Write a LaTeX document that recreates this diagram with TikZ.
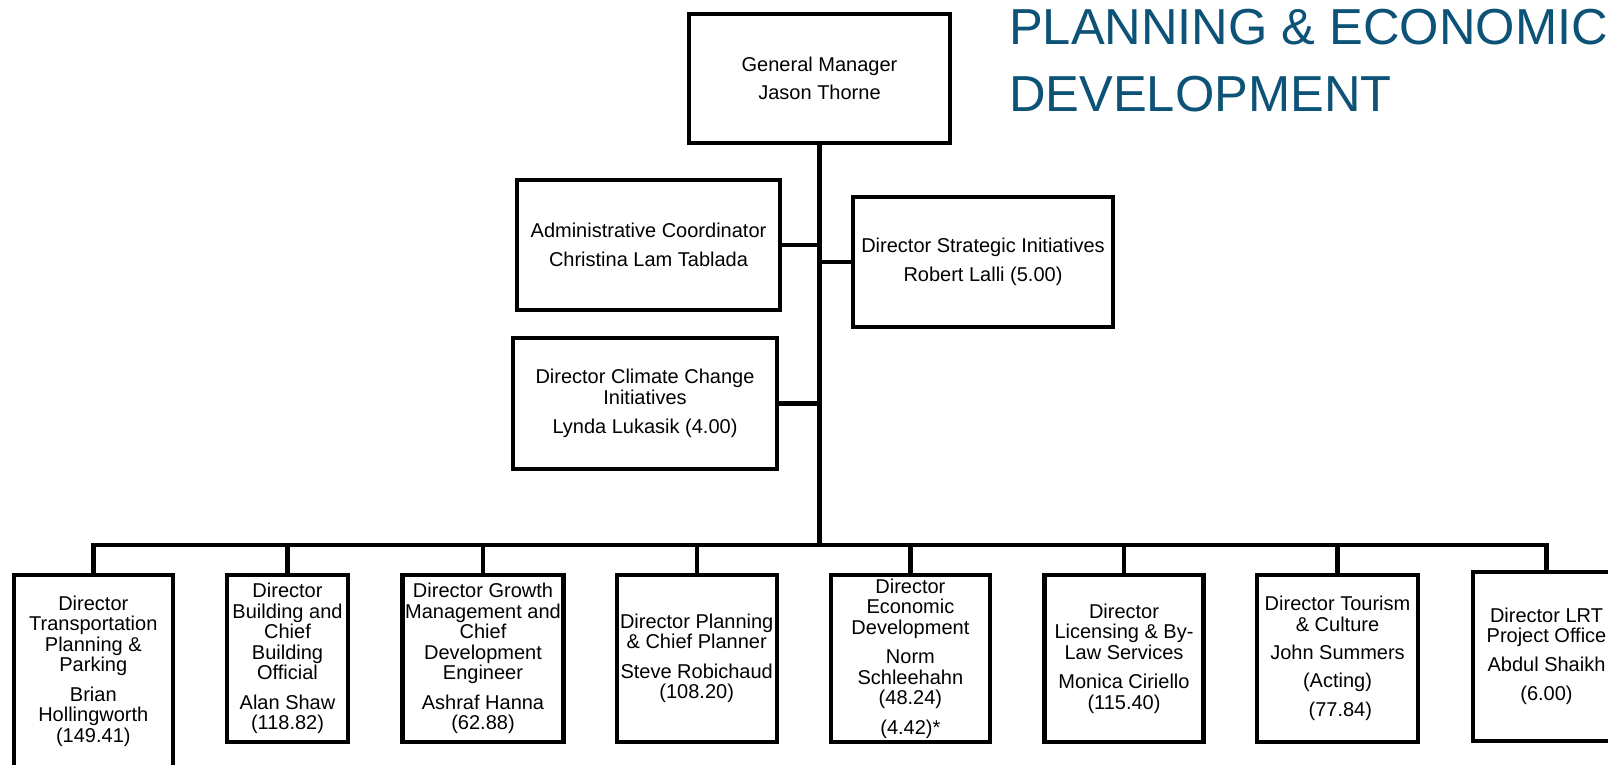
\documentclass[tikz,border=0pt]{standalone}
\usepackage{fontspec}
\setmainfont{Liberation Sans}
\usetikzlibrary{calc,positioning}
\definecolor{titleblue}{HTML}{0D5277}

\begin{document}
\begin{tikzpicture}[x=1pt,y=-1pt,
		box/.style={draw,line width=4.3pt,align=center,inner xsep=-8pt,inner ysep=0pt,minimum width=#1,
			execute at begin node={\rule{0pt}{18.5pt}}},
		box/.default=159pt,
		link/.style={line width=4.4pt},
		heading/.style={anchor=base west,inner sep=0pt,text=titleblue,font=\fontsize{50.6}{60}\selectfont},
		font=\fontsize{20}{20.5}\selectfont]
				\clip (0,0) rectangle (1608,765);
				\fill[white] (0,0) rectangle (1608,765);
				
				\node[heading] (ttl1) at (1009,45) {PLANNING \& ECONOMIC};
				\node[heading] (ttl2) at (1009,111.7) {DEVELOPMENT};
				
				\node[box=261pt,minimum height=129pt] (gm) at (819.5,78.5) {General Manager\\[8pt]Jason Thorne};
				\node[box=263pt,minimum height=130pt] (adm) at (648.5,245) {Administrative Coordinator\\[8pt]Christina Lam Tablada};
				\node[box=260pt,minimum height=130.5pt] (dsi) at (983,262) {Director Strategic Initiatives\\[8pt]Robert Lalli (5.00)};
				\node[box=264pt,minimum height=131pt] (dcc) at (645,403.5) {Director Climate Change\\Initiatives\\[9pt]Lynda Lukasik (4.00)};
				
				\node[box=159pt,minimum height=192pt] (tpp) at (93.3,671) {Director\\Transportation\\Planning \&\\Parking\\[9pt]Brian\\Hollingworth\\(149.41)};
				\node[box=121pt,minimum height=167pt] (bld) at (287.5,658.5) {Director\\Building and\\Chief\\Building\\Official\\[9pt]Alan Shaw\\(118.82)};
				\node[box=161pt,minimum height=167pt] (gme) at (483,658.5) {Director Growth\\Management and\\Chief\\Development\\Engineer\\[9pt]Ashraf Hanna\\(62.88)};
				\node[box=160pt,minimum height=167pt] (pcp) at (696.7,658.5) {Director Planning\\\& Chief Planner\\[9pt]Steve Robichaud\\(108.20)};
				\node[box=159pt,minimum height=167pt] (ecd) at (910.4,658.5) {Director\\Economic\\Development\\[9pt]Norm\\Schleehahn\\(48.24)\\[9pt](4.42)*};
				\node[box=159pt,minimum height=167pt] (lbs) at (1124,658.5) {Director\\Licensing \& By-\\Law Services\\[9pt]Monica Ciriello\\(115.40)};
				\node[box=161pt,minimum height=167pt] (tou) at (1337.5,658.5) {Director Tourism\\\& Culture\\[8pt]John Summers\\[7pt](Acting)\\[9pt]\ (77.84)};
				\node[box=147pt,minimum height=168.7pt] (lrt) at (1546.5,656.4) {Director LRT\\Project Office\\[8pt]Abdul Shaikh\\[9pt](6.00)};
				
				\coordinate (bus) at (819.5,545);
				
				\draw[link] (gm.south) -- (bus);
				\draw[link] (tpp.north) |- (bus) -| (lrt.north);
				
				\foreach \x in {bld,gme,pcp,ecd,lbs,tou}{
					\draw[link] (\x.north) -- (\x.north |- bus);}
				
				\draw[link] (adm.east) -- (adm.east -| bus);
				\draw[link] (dcc.east) -- (dcc.east -| bus);
				\draw[link] (dsi.west) -- (dsi.west -| bus);
			\end{tikzpicture}
\end{document}
